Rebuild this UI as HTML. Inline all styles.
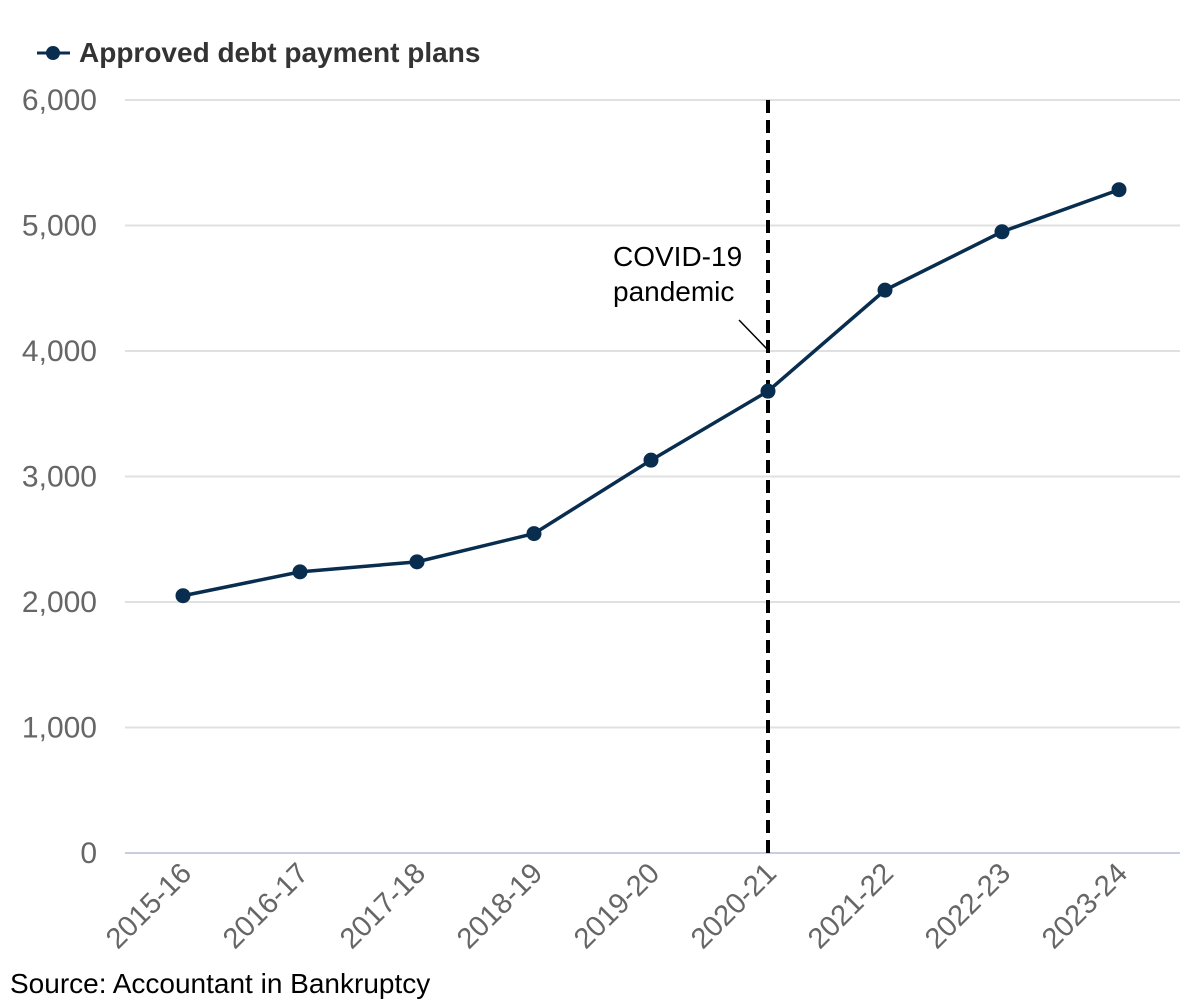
<!DOCTYPE html>
<html><head><meta charset="utf-8"><style>
body{margin:0;background:#fff;width:1200px;height:1000px;overflow:hidden;font-family:"Liberation Sans",Arial,sans-serif}
</style></head><body>
<svg id="chart" width="1200" height="1000" xmlns="http://www.w3.org/2000/svg" font-family="Liberation Sans, Arial, sans-serif">
<g>
<line x1="37" y1="53" x2="70" y2="53" stroke="#082d4f" stroke-width="3"/>
<circle cx="53" cy="53" r="7" fill="#082d4f"/>
<text x="79" y="62" font-size="28" font-weight="bold" fill="#333">Approved debt payment plans</text>
</g>
<g id="grid"></g><g id="yticks"></g><g id="xticks"></g>
<g>
<line id="covid" y1="100" y2="853" stroke="#000" stroke-width="4" stroke-dasharray="13,7"/>
<line id="leader" x1="739" y1="320" x2="768" y2="350" stroke="#000" stroke-width="1.5"/>
<text x="613" y="266" font-size="28" fill="#000">COVID-19</text>
<text x="613" y="301" font-size="28" fill="#000">pandemic</text>
</g>
<g id="series"></g>
<text x="10" y="993" font-size="28" fill="#000">Source: Accountant in Bankruptcy</text>
</svg>
<script>
const categories=["2015-16","2016-17","2017-18","2018-19","2019-20","2020-21","2021-22","2022-23","2023-24"];
const values=[2050,2240,2320,2545,3130,3680,4485,4950,5285];
const yTicks=[0,1000,2000,3000,4000,5000,6000];
const yTickLabels=["0","1,000","2,000","3,000","4,000","5,000","6,000"];
const covidCategory="2020-21";
const NS="http://www.w3.org/2000/svg";
const y0=853,y1=100,yMax=6000,xFirst=183,xStep=117;
const y=v=>y0-(v/yMax)*(y0-y1);
const x=i=>xFirst+i*xStep;
function mk(t,a,p){const e=document.createElementNS(NS,t);for(const k in a)e.setAttribute(k,a[k]);p.appendChild(e);return e;}
const grid=document.getElementById('grid'),yt=document.getElementById('yticks'),xt=document.getElementById('xticks'),se=document.getElementById('series');
yTicks.forEach((v,i)=>{
 const l=mk('line',{x1:125,x2:1180,y1:y(v),y2:y(v),stroke:v===0?'#c9cde0':'#e0e0e0','stroke-width':2},grid);
 
 
 const t=mk('text',{x:97,y:y(v)+10,'text-anchor':'end','font-size':30,fill:'#666'},yt);
 t.textContent=yTickLabels[i];
 
 
});
categories.forEach((c,i)=>{
 const t=mk('text',{x:0,y:0,'text-anchor':'end','font-size':29,fill:'#666',transform:`translate(${x(i)+10},${y0+22}) rotate(-45)`},xt);
 t.textContent=c;
 
 
});
const ci=categories.indexOf(covidCategory);
const cv=document.getElementById('covid');cv.setAttribute('x1',x(ci));cv.setAttribute('x2',x(ci));
const pl=mk('polyline',{points:values.map((v,i)=>x(i)+','+y(v)).join(' '),fill:'none',stroke:'#082d4f','stroke-width':3.5},se);


values.forEach((v,i)=>{
 const c=mk('circle',{cx:x(i),cy:y(v),r:7.5,fill:'#082d4f'},se);
 
 
});
</script>
</body></html>
